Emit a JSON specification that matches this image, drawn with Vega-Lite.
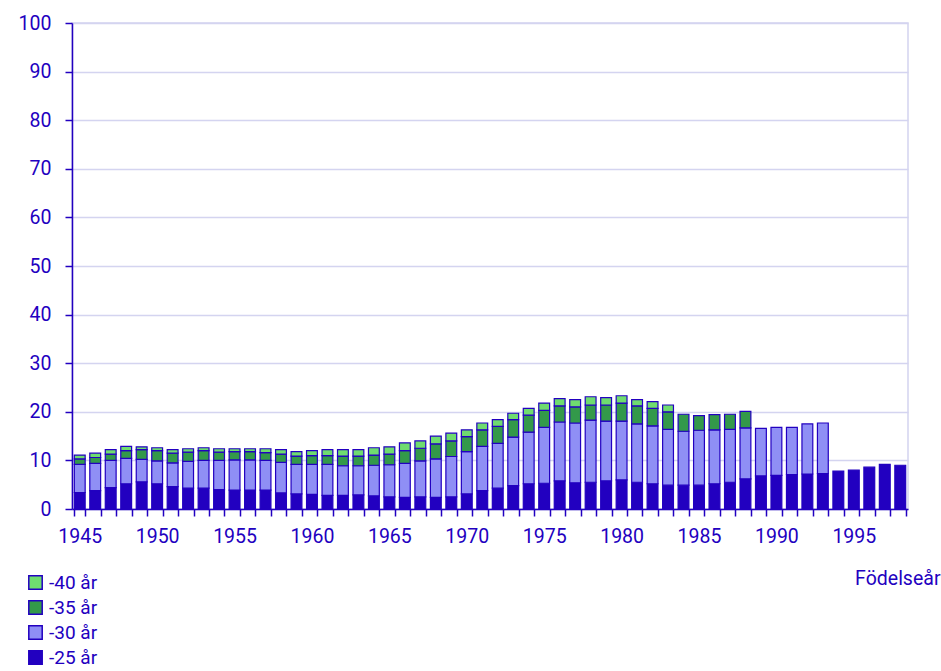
{
  "$schema": "https://vega.github.io/schema/vega-lite/v6.json",
  "width": 836,
  "height": 486,
  "autosize": "none",
  "padding": {"left": 72, "top": 23, "right": 33, "bottom": 162},
  "config": {
    "font": "Roboto",
    "view": {"stroke": "#d4d4f0", "strokeWidth": 1.5},
    "axis": {
      "labelFont": "Roboto", "labelFontSize": 19.5, "labelColor": "#2200c0",
      "titleFont": "Roboto", "titleFontSize": 19.5, "titleColor": "#2200c0", "titleFontWeight": "normal",
      "domainColor": "#2200c0", "domainWidth": 1.5,
      "tickColor": "#2200c0", "tickWidth": 1.5, "tickSize": 7,
      "gridColor": "#d4d4f0", "gridWidth": 1.5
    },
    "legend": {"labelFont": "Roboto", "labelFontSize": 19, "labelColor": "#2200c0"}
  },
  "data": {"values": [
    {"year":1945,"group":"-25 år","value":3.4},{"year":1945,"group":"-30 år","value":5.8},{"year":1945,"group":"-35 år","value":1.1},{"year":1945,"group":"-40 år","value":0.8},
    {"year":1946,"group":"-25 år","value":3.8},{"year":1946,"group":"-30 år","value":5.6},{"year":1946,"group":"-35 år","value":1.2},{"year":1946,"group":"-40 år","value":0.9},
    {"year":1947,"group":"-25 år","value":4.4},{"year":1947,"group":"-30 år","value":5.6},{"year":1947,"group":"-35 år","value":1.3},{"year":1947,"group":"-40 år","value":0.9},
    {"year":1948,"group":"-25 år","value":5.2},{"year":1948,"group":"-30 år","value":5.2},{"year":1948,"group":"-35 år","value":1.6},{"year":1948,"group":"-40 år","value":0.9},
    {"year":1949,"group":"-25 år","value":5.6},{"year":1949,"group":"-30 år","value":4.6},{"year":1949,"group":"-35 år","value":2.0},{"year":1949,"group":"-40 år","value":0.6},
    {"year":1950,"group":"-25 år","value":5.2},{"year":1950,"group":"-30 år","value":4.7},{"year":1950,"group":"-35 år","value":2.1},{"year":1950,"group":"-40 år","value":0.6},
    {"year":1951,"group":"-25 år","value":4.6},{"year":1951,"group":"-30 år","value":4.9},{"year":1951,"group":"-35 år","value":2.0},{"year":1951,"group":"-40 år","value":0.7},
    {"year":1952,"group":"-25 år","value":4.3},{"year":1952,"group":"-30 år","value":5.5},{"year":1952,"group":"-35 år","value":1.9},{"year":1952,"group":"-40 år","value":0.7},
    {"year":1953,"group":"-25 år","value":4.3},{"year":1953,"group":"-30 år","value":5.7},{"year":1953,"group":"-35 år","value":2.0},{"year":1953,"group":"-40 år","value":0.6},
    {"year":1954,"group":"-25 år","value":4.0},{"year":1954,"group":"-30 år","value":6.0},{"year":1954,"group":"-35 år","value":1.7},{"year":1954,"group":"-40 år","value":0.7},
    {"year":1955,"group":"-25 år","value":3.9},{"year":1955,"group":"-30 år","value":6.2},{"year":1955,"group":"-35 år","value":1.7},{"year":1955,"group":"-40 år","value":0.6},
    {"year":1956,"group":"-25 år","value":3.9},{"year":1956,"group":"-30 år","value":6.2},{"year":1956,"group":"-35 år","value":1.7},{"year":1956,"group":"-40 år","value":0.6},
    {"year":1957,"group":"-25 år","value":3.9},{"year":1957,"group":"-30 år","value":6.1},{"year":1957,"group":"-35 år","value":1.6},{"year":1957,"group":"-40 år","value":0.8},
    {"year":1958,"group":"-25 år","value":3.3},{"year":1958,"group":"-30 år","value":6.3},{"year":1958,"group":"-35 år","value":1.7},{"year":1958,"group":"-40 år","value":0.9},
    {"year":1959,"group":"-25 år","value":3.1},{"year":1959,"group":"-30 år","value":6.1},{"year":1959,"group":"-35 år","value":1.7},{"year":1959,"group":"-40 år","value":0.9},
    {"year":1960,"group":"-25 år","value":3.0},{"year":1960,"group":"-30 år","value":6.2},{"year":1960,"group":"-35 år","value":1.8},{"year":1960,"group":"-40 år","value":1.0},
    {"year":1961,"group":"-25 år","value":2.8},{"year":1961,"group":"-30 år","value":6.4},{"year":1961,"group":"-35 år","value":1.8},{"year":1961,"group":"-40 år","value":1.2},
    {"year":1962,"group":"-25 år","value":2.8},{"year":1962,"group":"-30 år","value":6.1},{"year":1962,"group":"-35 år","value":2.0},{"year":1962,"group":"-40 år","value":1.3},
    {"year":1963,"group":"-25 år","value":2.9},{"year":1963,"group":"-30 år","value":6.0},{"year":1963,"group":"-35 år","value":2.0},{"year":1963,"group":"-40 år","value":1.3},
    {"year":1964,"group":"-25 år","value":2.7},{"year":1964,"group":"-30 år","value":6.3},{"year":1964,"group":"-35 år","value":2.1},{"year":1964,"group":"-40 år","value":1.5},
    {"year":1965,"group":"-25 år","value":2.5},{"year":1965,"group":"-30 år","value":6.6},{"year":1965,"group":"-35 år","value":2.2},{"year":1965,"group":"-40 år","value":1.5},
    {"year":1966,"group":"-25 år","value":2.4},{"year":1966,"group":"-30 år","value":7.0},{"year":1966,"group":"-35 år","value":2.6},{"year":1966,"group":"-40 år","value":1.6},
    {"year":1967,"group":"-25 år","value":2.5},{"year":1967,"group":"-30 år","value":7.4},{"year":1967,"group":"-35 år","value":2.6},{"year":1967,"group":"-40 år","value":1.5},
    {"year":1968,"group":"-25 år","value":2.4},{"year":1968,"group":"-30 år","value":7.9},{"year":1968,"group":"-35 år","value":3.1},{"year":1968,"group":"-40 år","value":1.6},
    {"year":1969,"group":"-25 år","value":2.5},{"year":1969,"group":"-30 år","value":8.3},{"year":1969,"group":"-35 år","value":3.2},{"year":1969,"group":"-40 år","value":1.6},
    {"year":1970,"group":"-25 år","value":3.1},{"year":1970,"group":"-30 år","value":8.7},{"year":1970,"group":"-35 år","value":3.1},{"year":1970,"group":"-40 år","value":1.4},
    {"year":1971,"group":"-25 år","value":3.8},{"year":1971,"group":"-30 år","value":9.1},{"year":1971,"group":"-35 år","value":3.4},{"year":1971,"group":"-40 år","value":1.4},
    {"year":1972,"group":"-25 år","value":4.3},{"year":1972,"group":"-30 år","value":9.2},{"year":1972,"group":"-35 år","value":3.5},{"year":1972,"group":"-40 år","value":1.4},
    {"year":1973,"group":"-25 år","value":4.8},{"year":1973,"group":"-30 år","value":10.0},{"year":1973,"group":"-35 år","value":3.6},{"year":1973,"group":"-40 år","value":1.3},
    {"year":1974,"group":"-25 år","value":5.2},{"year":1974,"group":"-30 år","value":10.6},{"year":1974,"group":"-35 år","value":3.5},{"year":1974,"group":"-40 år","value":1.4},
    {"year":1975,"group":"-25 år","value":5.3},{"year":1975,"group":"-30 år","value":11.5},{"year":1975,"group":"-35 år","value":3.5},{"year":1975,"group":"-40 år","value":1.5},
    {"year":1976,"group":"-25 år","value":5.8},{"year":1976,"group":"-30 år","value":12.1},{"year":1976,"group":"-35 år","value":3.3},{"year":1976,"group":"-40 år","value":1.5},
    {"year":1977,"group":"-25 år","value":5.4},{"year":1977,"group":"-30 år","value":12.3},{"year":1977,"group":"-35 år","value":3.3},{"year":1977,"group":"-40 år","value":1.5},
    {"year":1978,"group":"-25 år","value":5.5},{"year":1978,"group":"-30 år","value":12.8},{"year":1978,"group":"-35 år","value":3.1},{"year":1978,"group":"-40 år","value":1.7},
    {"year":1979,"group":"-25 år","value":5.8},{"year":1979,"group":"-30 år","value":12.3},{"year":1979,"group":"-35 år","value":3.3},{"year":1979,"group":"-40 år","value":1.5},
    {"year":1980,"group":"-25 år","value":6.0},{"year":1980,"group":"-30 år","value":12.1},{"year":1980,"group":"-35 år","value":3.7},{"year":1980,"group":"-40 år","value":1.5},
    {"year":1981,"group":"-25 år","value":5.5},{"year":1981,"group":"-30 år","value":12.0},{"year":1981,"group":"-35 år","value":3.7},{"year":1981,"group":"-40 år","value":1.3},
    {"year":1982,"group":"-25 år","value":5.2},{"year":1982,"group":"-30 år","value":11.9},{"year":1982,"group":"-35 år","value":3.6},{"year":1982,"group":"-40 år","value":1.4},
    {"year":1983,"group":"-25 år","value":4.9},{"year":1983,"group":"-30 år","value":11.5},{"year":1983,"group":"-35 år","value":3.6},{"year":1983,"group":"-40 år","value":1.4},
    {"year":1984,"group":"-25 år","value":4.9},{"year":1984,"group":"-30 år","value":11.1},{"year":1984,"group":"-35 år","value":3.5},
    {"year":1985,"group":"-25 år","value":4.9},{"year":1985,"group":"-30 år","value":11.3},{"year":1985,"group":"-35 år","value":3.0},
    {"year":1986,"group":"-25 år","value":5.2},{"year":1986,"group":"-30 år","value":11.1},{"year":1986,"group":"-35 år","value":3.1},
    {"year":1987,"group":"-25 år","value":5.5},{"year":1987,"group":"-30 år","value":10.9},{"year":1987,"group":"-35 år","value":3.1},
    {"year":1988,"group":"-25 år","value":6.2},{"year":1988,"group":"-30 år","value":10.5},{"year":1988,"group":"-35 år","value":3.4},
    {"year":1989,"group":"-25 år","value":6.8},{"year":1989,"group":"-30 år","value":9.8},
    {"year":1990,"group":"-25 år","value":6.9},{"year":1990,"group":"-30 år","value":9.9},
    {"year":1991,"group":"-25 år","value":7.1},{"year":1991,"group":"-30 år","value":9.7},
    {"year":1992,"group":"-25 år","value":7.2},{"year":1992,"group":"-30 år","value":10.3},
    {"year":1993,"group":"-25 år","value":7.3},{"year":1993,"group":"-30 år","value":10.4},
    {"year":1994,"group":"-25 år","value":7.8},
    {"year":1995,"group":"-25 år","value":8.0},
    {"year":1996,"group":"-25 år","value":8.6},
    {"year":1997,"group":"-25 år","value":9.2},
    {"year":1998,"group":"-25 år","value":9.0}
  ]},
  "mark": {"type": "bar", "stroke": "#2200c0", "strokeWidth": 1.2},
  "encoding": {
    "x": {
      "field": "year", "type": "ordinal",
      "scale": {"paddingInner": 0.3, "paddingOuter": 0.15},
      "axis": {
        "title": "Födelseår", "labelAngle": 0, "tickBand": "extent", "grid": false,
        "labelExpr": "datum.value % 5 === 0 ? datum.label : ''",
        "labelPadding": 11, "labelFlush": false, "labelOverlap": false,
        "titleAnchor": "end", "titleAlign": "right", "titleBaseline": "middle",
        "titleX": 868, "titleY": 69
      }
    },
    "y": {
      "field": "value", "type": "quantitative", "aggregate": "sum",
      "scale": {"domain": [0, 100], "nice": false},
      "axis": {"title": null, "values": [0,10,20,30,40,50,60,70,80,90,100], "labelPadding": 14}
    },
    "color": {
      "field": "group", "type": "nominal",
      "scale": {"domain": ["-40 år", "-35 år", "-30 år", "-25 år"], "range": ["#6fdc6f", "#33994a", "#8f8ff5", "#2200c0"]},
      "legend": {
        "title": null, "orient": "none", "legendX": -46, "legendY": 550,
        "symbolType": "square", "symbolSize": 180, "symbolStrokeColor": "#2200c0", "symbolStrokeWidth": 1.5,
        "symbolOpacity": 1, "rowPadding": 4, "labelOffset": 4
      }
    },
    "order": {"field": "group", "sort": "ascending"}
  }
}
